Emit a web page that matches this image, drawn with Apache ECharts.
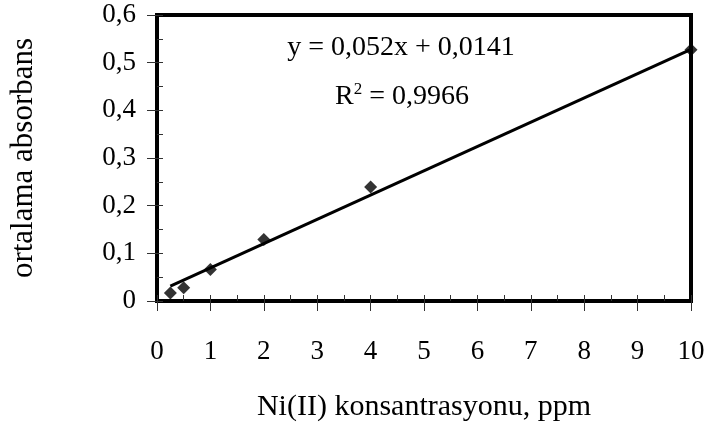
<!DOCTYPE html>
<html><head><meta charset="utf-8">
<script src="https://cdn.jsdelivr.net/npm/echarts@6/dist/echarts.min.js"></script>
<style>html,body{margin:0;padding:0;background:#fff}#c{width:708px;height:427px}</style>
</head><body><div id="c"></div>
<script>
const concentrations = [0.25, 0.5, 1, 2, 4, 10];
const absorbances = [0.017, 0.028, 0.066, 0.129, 0.239, 0.527];
const trendX = [0.25, 10];
const trendY = [0.031, 0.528];
const xTicks = [0,1,2,3,4,5,6,7,8,9,10];
const yTicks = ['0','0,1','0,2','0,3','0,4','0,5','0,6'];
const eqText = 'y = 0,052x + 0,0141';
const r2Text = '0,9966';

const FONT = 'Liberation Serif';
const FS = 27;
const TFS = 30;
const chart = echarts.init(document.getElementById('c'));
const trendData = trendX.map((x,i) => [x, trendY[i]]);

const baseX = {type:'value', min:0, max:10, interval:1, position:'bottom'};
const baseY = {type:'value', min:0, max:0.6, interval:0.1, position:'left'};
chart.setOption({
  animation:false,
  grid:{left:157, top:15, right:17, bottom:125, show:true, borderColor:'#000', borderWidth:4, backgroundColor:'#fff'},
  xAxis:[
    Object.assign({}, baseX, {
      axisLine:{show:true, lineStyle:{color:'#000', width:4}},
      axisTick:{show:true, inside:false, length:10, lineStyle:{color:'#333', width:1}},
      axisLabel:{margin:37, color:'#000', fontFamily:FONT, fontSize:FS,
        formatter: v => String(xTicks[Math.round(v)])},
      splitLine:{show:false},
      name:'Ni(II) konsantrasyonu, ppm', nameLocation:'middle', nameGap:91,
      nameTextStyle:{color:'#000', fontFamily:FONT, fontSize:TFS}
    }),
    Object.assign({}, baseX, {
      axisLine:{show:false},
      axisTick:{show:true, inside:true, length:6, lineStyle:{color:'#333', width:1}},
      minorTick:{show:true, splitNumber:2, length:6, lineStyle:{color:'#333', width:1}},
      axisLabel:{show:false}, splitLine:{show:false}
    })
  ],
  yAxis:[
    Object.assign({}, baseY, {
      axisLine:{show:true, lineStyle:{color:'#000', width:4}},
      axisTick:{show:true, inside:false, length:10, lineStyle:{color:'#333', width:1}},
      axisLabel:{margin:21, color:'#000', fontFamily:FONT, fontSize:FS,
        formatter: v => yTicks[Math.round(v*10)]},
      splitLine:{show:false},
      name:'ortalama absorbans', nameLocation:'middle', nameGap:118,
      nameTextStyle:{color:'#000', fontFamily:FONT, fontSize:31}
    }),
    Object.assign({}, baseY, {
      axisLine:{show:false},
      axisTick:{show:true, inside:true, length:6, lineStyle:{color:'#333', width:1}},
      minorTick:{show:true, splitNumber:2, length:6, lineStyle:{color:'#333', width:1}},
      axisLabel:{show:false}, splitLine:{show:false}
    })
  ],
  series:[
    {type:'line', data:trendData, symbol:'none', lineStyle:{color:'#000', width:3}, z:2},
    {type:'scatter', data:concentrations.map((x,i)=>[x, absorbances[i]]), symbol:'diamond', symbolSize:13,
      itemStyle:{color:'#000'}, z:3}
  ],
  graphic:[
    {type:'text', x:401, y:48, style:{text:eqText, font:'28px "'+FONT+'"', fill:'#000', align:'center', verticalAlign:'middle'}},
    {type:'text', x:402, y:97, style:{text:'{a|R}{s|2}{a| = '+r2Text+'}', fill:'#000', align:'center', verticalAlign:'middle',
      rich:{a:{fontFamily:FONT, fontSize:28, fill:'#000'}, s:{fontFamily:FONT, fontSize:17, verticalAlign:'top', padding:[0,0,15,0], fill:'#000'}}}}
  ]
});
</script></body></html>
